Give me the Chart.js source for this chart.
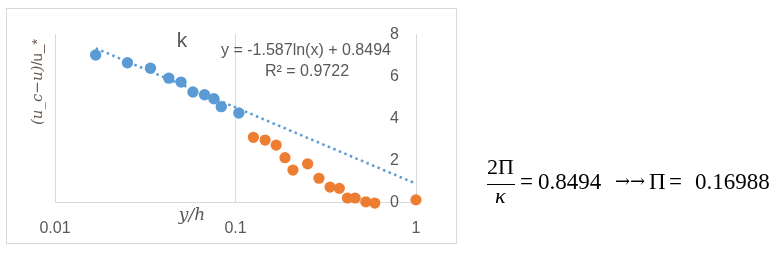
<!DOCTYPE html>
<html>
<head>
<meta charset="utf-8">
<script src="https://cdn.jsdelivr.net/npm/chart.js@4.4.1/dist/chart.umd.min.js"></script>
<style>
  html, body { margin: 0; padding: 0; background: #fff; }
  body { width: 782px; height: 255px; position: relative; overflow: hidden; }
  #frame { position: absolute; left: 6px; top: 8px; width: 451px; height: 236px; box-sizing: border-box; border: 1px solid #d9d9d9; }
  #chart { position: absolute; left: 0; top: 0; }
  .m { position: absolute; font-family: "Liberation Serif", serif; font-size: 23px; line-height: 23px; color: #000; white-space: nowrap; }
  .a { position: absolute; font-family: "DejaVu Serif", serif; font-size: 18px; line-height: 18px; color: #000; }
  #bar { position: absolute; left: 487px; top: 184px; width: 28px; height: 1px; background: #000; }
</style>
</head>
<body>
<div id="frame"></div>
<canvas id="chart" width="782" height="255"></canvas>

<span class="m" style="left:487px; top:155px; font-size:22px;">2Π</span>
<div id="bar"></div>
<span class="m" style="left:495px; top:184px; font-style:italic; font-size:22px;">κ</span>
<span class="m" style="left:520px; top:170px;">=</span>
<span class="m" style="left:538px; top:170px;">0.8494</span>
<span class="a" style="left:615px; top:172px;">→</span>
<span class="a" style="left:630px; top:172px;">→</span>
<span class="m" style="left:649px; top:170px;">Π</span>
<span class="m" style="left:669px; top:170px;">=</span>
<span class="m" style="left:695px; top:170px;">0.16988</span>

<script>
// values
const blueX = [0.0168, 0.0252, 0.0338, 0.0427, 0.0499, 0.0581, 0.0674, 0.0759, 0.0834, 0.1043];
const blueY = [7.00, 6.63, 6.37, 5.90, 5.71, 5.24, 5.11, 4.92, 4.54, 4.24];

const orangeX = [0.1256, 0.1459, 0.168, 0.188, 0.208, 0.251, 0.290, 0.334, 0.376, 0.417, 0.460, 0.527, 0.591, 1.0];
const orangeY = [3.08, 2.95, 2.71, 2.11, 1.52, 1.82, 1.13, 0.71, 0.65, 0.19, 0.19, 0.01, -0.05, 0.10];

// log trendline is straight on a log axis: its two ends
const trendX = [0.0168, 1.0];
const trendY = [7.32, 0.87];

const xTicks = [0.01, 0.1, 1];
const xTickLabels = ['0.01', '0.1', '1'];
const yTickLabels = ['0', '2', '4', '6', '8'];

const titleText = 'k';
const eqText = 'y = -1.587ln(x) + 0.8494';
const r2Text = 'R² = 0.9722';

const toPoints = (xs, ys) => xs.map((x, i) => ({ x: x, y: ys[i] }));

const gray = '#595959';
const gridGray = '#d9d9d9';

// extra texts that Excel places freely on the chart
const labelsPlugin = {
    id: 'freeLabels',
    afterDraw(chart) {
        const ctx = chart.ctx;
        const ys = chart.scales.y;
        ctx.save();
        ctx.fillStyle = gray;

        // y tick labels sit inside, left of the right-hand axis
        ctx.font = '16px "Liberation Sans"';
        ctx.textAlign = 'right';
        ctx.textBaseline = 'middle';
        yTickLabels.forEach(t => {
            ctx.fillText(t, ys.left - 17, ys.getPixelForValue(Number(t)) + 1);
        });

        ctx.textBaseline = 'alphabetic';
        ctx.textAlign = 'center';
        ctx.font = '21px "Liberation Sans"';
        ctx.fillText(titleText, 182, 47);

        ctx.font = '16px "Liberation Sans"';
        ctx.fillText(eqText, 306, 55);
        ctx.fillText(r2Text, 307, 76);

        // x title
        ctx.font = 'italic 17px "DejaVu Serif"';
        ctx.fillText('y/h', 192, 220);

        // y title, rotated
        ctx.fillStyle = '#665a52';
        ctx.translate(42, 82);
        ctx.rotate(-Math.PI / 2);
        const partA = '(u_c−u)';
        const partB = '/u_*';
        ctx.font = 'italic 15px "DejaVu Serif"';
        const wa = ctx.measureText(partA).width;
        ctx.font = '15px "Liberation Sans"';
        const wb = ctx.measureText(partB).width;
        const x0 = -(wa + wb) / 2;
        ctx.textAlign = 'left';
        ctx.font = 'italic 15px "DejaVu Serif"';
        ctx.fillText(partA, x0, 0);
        ctx.font = '15px "Liberation Sans"';
        ctx.fillText(partB, x0 + wa, 0);
        ctx.restore();
    }
};

new Chart(document.getElementById('chart').getContext('2d'), {
    data: {
        datasets: [
            {
                type: 'scatter',
                data: toPoints(blueX, blueY),
                backgroundColor: '#5B9BD5',
                borderWidth: 0,
                pointRadius: 5.7,
                clip: false,
                order: 1
            },
            {
                type: 'scatter',
                data: toPoints(orangeX, orangeY),
                backgroundColor: '#ED7D31',
                borderWidth: 0,
                pointRadius: 5.6,
                clip: false,
                order: 1
            },
            {
                type: 'line',
                data: toPoints(trendX, trendY),
                borderColor: '#5B9BD5',
                borderWidth: 2.5,
                borderDash: [2.5, 3.5],
                pointRadius: 0,
                fill: false,
                clip: false,
                order: 0
            }
        ]
    },
    options: {
        responsive: false,
        animation: false,
        layout: { padding: { left: 55, right: 366, top: 34, bottom: 0 } },
        plugins: {
            legend: { display: false },
            tooltip: { enabled: false }
        },
        scales: {
            x: {
                type: 'logarithmic',
                min: 0.01,
                max: 1,
                afterBuildTicks: scale => { scale.ticks = xTicks.map(v => ({ value: v })); },
                afterFit: scale => { scale.height = 53; },
                ticks: {
                    autoSkip: false,
                    maxRotation: 0,
                    padding: 17,
                    color: gray,
                    font: { family: 'Liberation Sans', size: 16 },
                    callback: (v, i) => xTickLabels[i]
                },
                grid: { color: gridGray, drawTicks: false },
                border: { display: true, color: gridGray }
            },
            y: {
                type: 'linear',
                position: 'right',
                min: 0,
                max: 8,
                afterFit: scale => { scale.width = 0; },
                ticks: { stepSize: 2, display: false },
                grid: { display: false, drawTicks: false },
                border: { display: true, color: gridGray }
            }
        }
    },
    plugins: [labelsPlugin]
});
</script>
</body>
</html>
